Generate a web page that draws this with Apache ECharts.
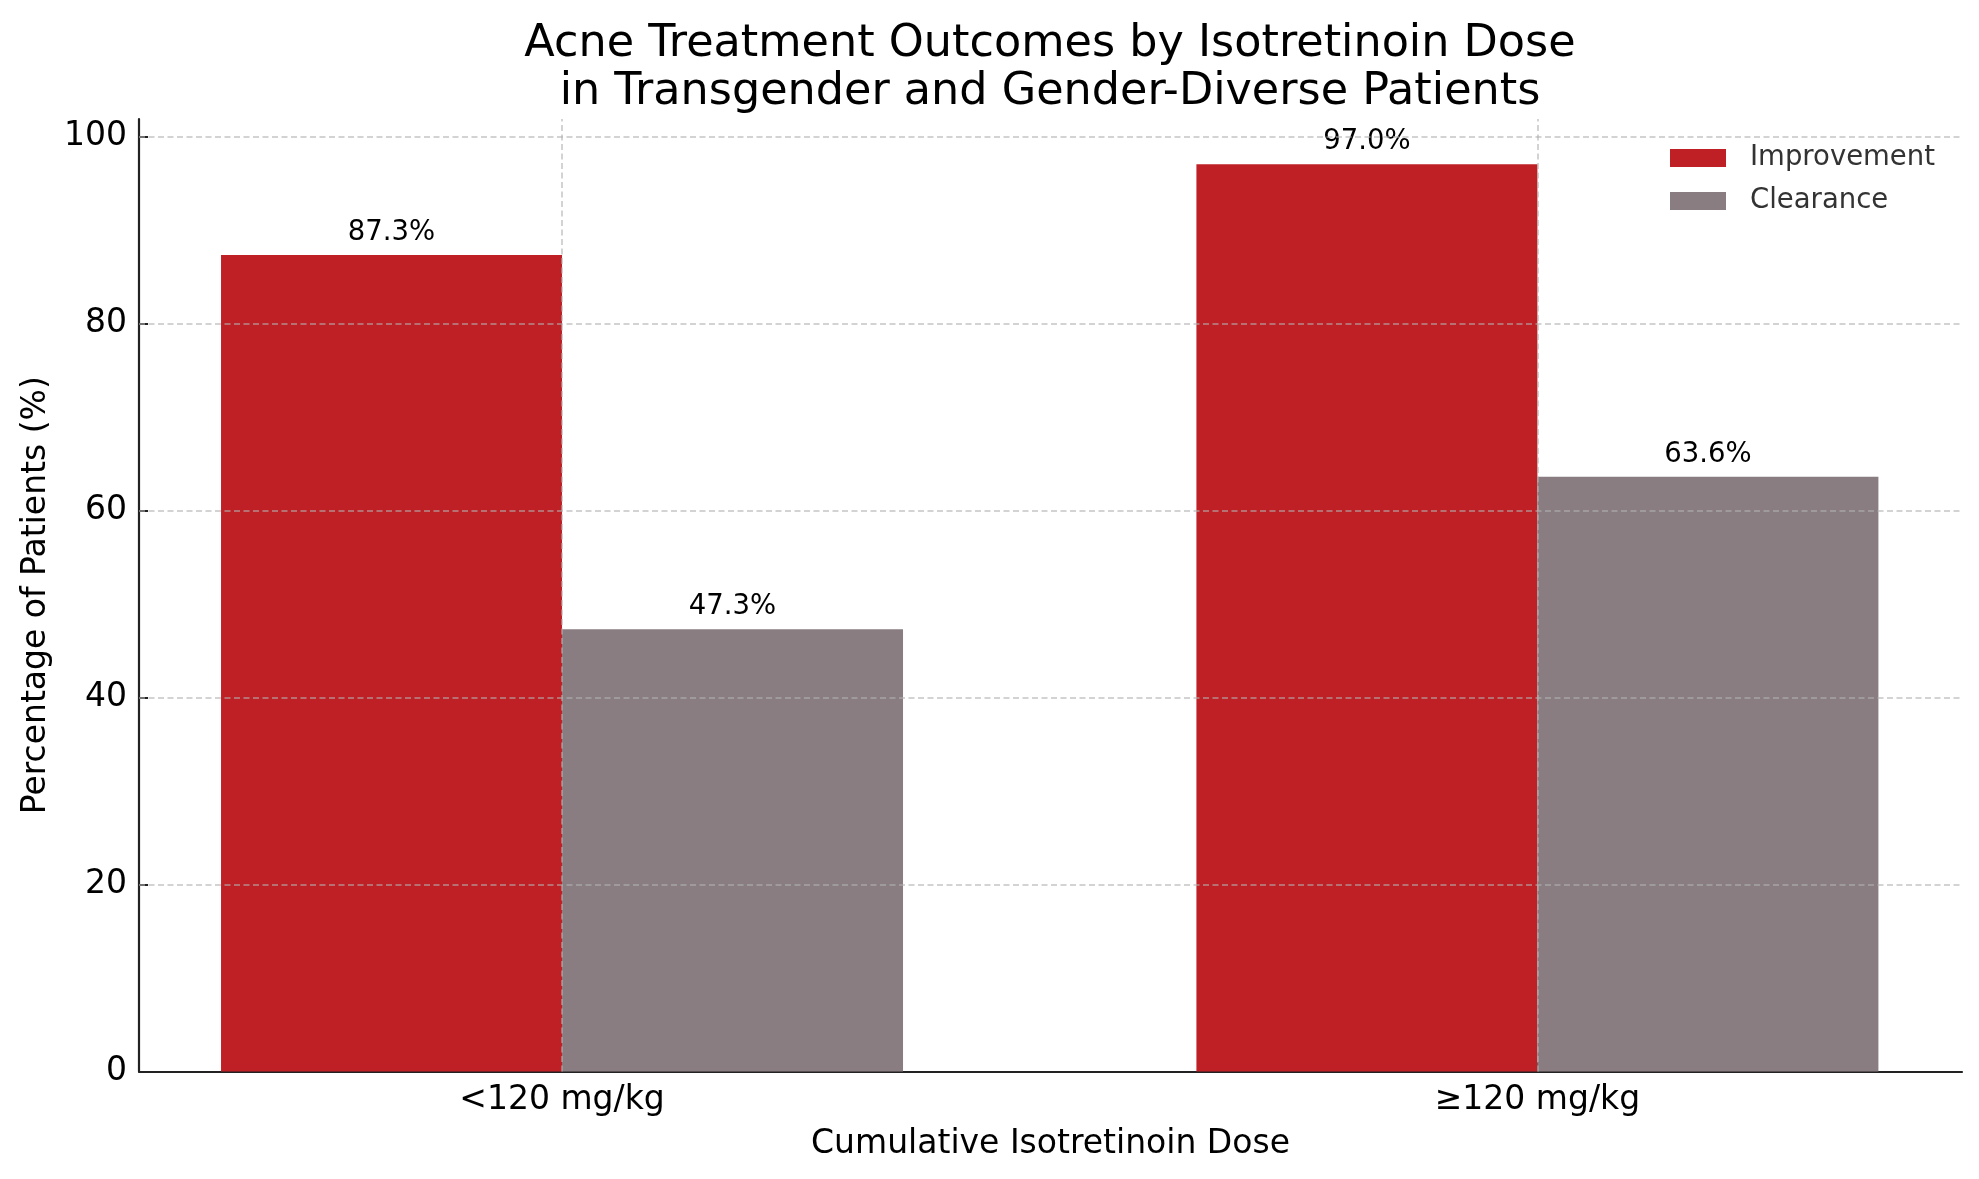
<!DOCTYPE html>
<html><head><meta charset="utf-8">
<script src="https://cdn.jsdelivr.net/npm/echarts@6/dist/echarts.min.js"></script>
<style>html,body{margin:0;padding:0;background:#fff}#c{width:1979px;height:1179px}</style>
</head><body><div id="c"></div>
<script>
const categories = ['<120 mg/kg', '\u2265120 mg/kg'];
const seriesNames = ['Improvement', 'Clearance'];
const improvement = [87.3, 97.0];
const clearance = [47.3, 63.6];
const yTicks = [0, 20, 40, 60, 80, 100];

const FONT = 'DejaVu Sans';
const catIdx = categories.map((c, i) => i);
const gridStyle = { color: 'rgba(176,176,176,0.75)', width: 1.5, type: [6, 3.5] };

const chart = echarts.init(document.getElementById('c'), null, { renderer: 'canvas' });
const labelCfg = {
  show: true, position: 'top', distance: 8,
  fontFamily: FONT, fontSize: 27.5, color: '#000',
  formatter: p => p.value[1].toFixed(1) + '%'
};
chart.setOption({
  animation: false,
  backgroundColor: '#fff',
  textStyle: { fontFamily: FONT },
  title: {
    text: 'Acne Treatment Outcomes by Isotretinoin Dose\nin Transgender and Gender-Diverse Patients',
    left: 1050, top: 20, padding: 0, textAlign: 'center',
    textStyle: { fontFamily: FONT, fontSize: 44.5, fontWeight: 'normal', color: '#000', lineHeight: 48 }
  },
  legend: {
    data: seriesNames, orient: 'vertical', left: 1670, top: 144, padding: 0,
    itemWidth: 56, itemHeight: 18, itemGap: 15, icon: 'rect',
    textStyle: { fontFamily: FONT, fontSize: 27.5, color: '#333', lineHeight: 18, padding: [0, 0, 0, 19] }
  },
  grid: { left: 139, right: 17, top: 119, bottom: 107.5 },
  xAxis: {
    type: 'value', min: -0.4337, max: 1.4353,
    name: 'Cumulative Isotretinoin Dose', nameLocation: 'middle', nameGap: 56,
    nameTextStyle: { fontFamily: FONT, fontSize: 33, color: '#000' },
    axisLine: { show: true, onZero: false, lineStyle: { color: '#222', width: 2.2 } },
    axisTick: { show: true, inside: true, length: 9, customValues: catIdx, lineStyle: { color: '#222', width: 2 } },
    axisLabel: { customValues: catIdx, margin: 12, fontFamily: FONT, fontSize: 33, color: '#000',
      formatter: v => categories[Math.round(v)] },
    splitLine: { show: false }
  },
  yAxis: {
    type: 'value', min: 0, max: 101.85,
    name: 'Percentage of Patients (%)', nameLocation: 'middle', nameGap: 84,
    nameTextStyle: { fontFamily: FONT, fontSize: 33, color: '#000' },
    axisLine: { show: true, onZero: false, lineStyle: { color: '#222', width: 2.2 } },
    axisTick: { show: true, inside: true, length: 9, customValues: yTicks, lineStyle: { color: '#222', width: 2 } },
    axisLabel: { customValues: yTicks, margin: 12, fontFamily: FONT, fontSize: 33, color: '#000' },
    splitLine: { show: false }
  },
  series: [
    {
      name: seriesNames[0], type: 'bar', barWidth: 341, barGap: '0%',
      itemStyle: { color: '#BF2026' },
      label: labelCfg,
      data: improvement.map((v, i) => [i, v])
    },
    {
      name: seriesNames[1], type: 'bar', barWidth: 341, barGap: '0%',
      itemStyle: { color: '#897D81' },
      label: labelCfg,
      data: clearance.map((v, i) => [i, v])
    },
    {
      name: 'grid', type: 'line', data: [], z: 10, silent: true,
      markLine: {
        silent: true, symbol: ['none', 'none'], label: { show: false }, z: 10,
        lineStyle: gridStyle, emphasis: { disabled: true },
        data: yTicks.filter(t => t > 0).map(t => ({ yAxis: t }))
          .concat(catIdx.map(i => ({ xAxis: i })))
      }
    }
  ]
});
</script></body></html>
